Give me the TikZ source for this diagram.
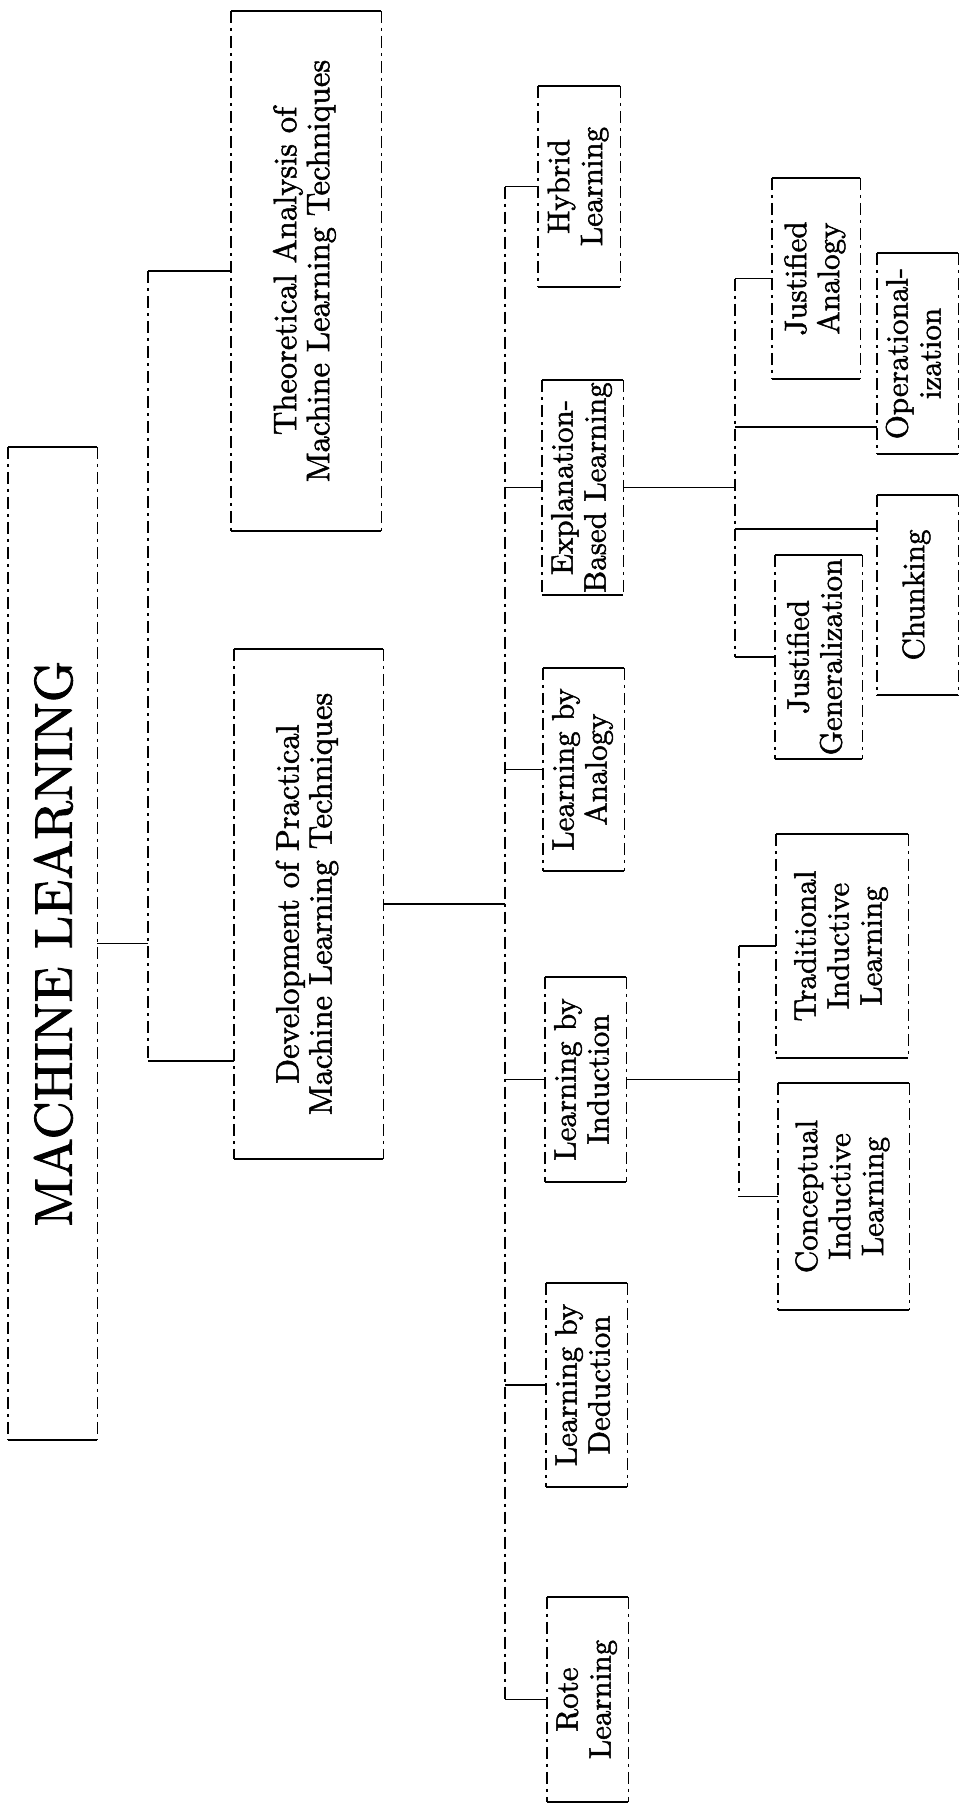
\documentclass[tikz,border=0pt]{standalone}
\usepackage{fontspec}
\usepackage{graphicx}
\setmainfont{lmroman10-regular.otf}[FakeBold=1.6]

\newcommand{\vtext}[1]{\rotatebox{90}{\begin{tabular}{@{}c@{}}#1\end{tabular}}}

\begin{document}
\begin{tikzpicture}[x=1pt,y=-1pt,
    box/.style={inner sep=0pt, font=\fontsize{31}{33}\selectfont},
    hedge/.style={line width=1.8pt},
    vedge/.style={line width=1.4pt, dash pattern=on 12pt off 5pt on 3pt off 5pt},
    link/.style={line width=1.8pt}]

        \useasboundingbox (0,0) rectangle (959,1805);

        % root and first level
        \node[box, minimum width=89pt, minimum height=993pt, font=\fontsize{53}{56}\selectfont] (root) at (52.5,943.5) {\vtext{\raisebox{-8pt}[\height][0pt]{MACHINE LEARNING}}};
        \node[box, minimum width=150pt, minimum height=520pt, font=\fontsize{32.5}{33}\selectfont] (theo) at (306,271) {\vtext{Theoretical Analysis of\\Machine Learning Techniques}};
        \node[box, minimum width=149pt, minimum height=510pt, font=\fontsize{32.5}{33}\selectfont] (dev) at (308.5,904) {\vtext{Development of Practical\\Machine Learning Techniques}};

        % second level
        \node[box, minimum width=82pt, minimum height=201pt] (hybrid) at (579,186.5) {\vtext{Hybrid\\Learning}};
        \node[box, minimum width=81pt, minimum height=215pt] (ebl) at (582.5,487.5) {\vtext{Explanation-\\Based Learning}};
        \node[box, minimum width=81pt, minimum height=203pt] (analogy) at (583.5,769.5) {\vtext{Learning by\\Analogy}};
        \node[box, minimum width=81pt, minimum height=205pt] (induction) at (585.5,1079.5) {\vtext{Learning by\\Induction}};
        \node[box, minimum width=81pt, minimum height=204pt] (deduction) at (586.5,1385) {\vtext{Learning by\\Deduction}};
        \node[box, minimum width=81pt, minimum height=205pt] (rote) at (587.5,1699.5) {\vtext{Rote\\Learning}};

        % third level
        \node[box, minimum width=88pt, minimum height=201pt] (ja) at (816,278.5) {\vtext{Justified\\Analogy}};
        \node[box, minimum width=81pt, minimum height=201pt] (oper) at (917.5,353.5) {\vtext{Operational-\\ization}};
        \node[box, minimum width=81pt, minimum height=200pt] (chunk) at (917.5,595) {\vtext{Chunking}};
        \node[box, minimum width=87pt, minimum height=204pt] (jg) at (818.5,657) {\vtext{Justified\\Generalization}};
        \node[box, minimum width=132pt, minimum height=224pt] (trad) at (842,946) {\vtext{Traditional\\Inductive\\Learning}};
        \node[box, minimum width=131pt, minimum height=227pt] (concept) at (843.5,1196.5) {\vtext{Conceptual\\Inductive\\Learning}};

        % frames: solid across, broken along
        \foreach \n in {root,theo,dev,hybrid,ebl,analogy,induction,deduction,rote,ja,oper,chunk,jg,trad,concept}{
            \draw[hedge] (\n.north west) -- (\n.north east) (\n.south west) -- (\n.south east);
            \draw[vedge] (\n.north west) -- (\n.south west) (\n.north east) -- (\n.south east);
        }

        % first bus
        \coordinate (busA) at (148,0);
        \coordinate (devin) at ([yshift=98pt]dev.south west);
        \draw[vedge] (busA |- theo.west) -- (busA |- devin);
        \draw[link] (root.east) -- (busA |- root.east);
        \draw[link] (busA |- theo.west) -- (theo.west);
        \draw[link] (busA |- devin) -- (devin);

        % second bus
        \coordinate (busB) at (505,0);
        \draw[vedge] (busB |- hybrid.west) -- (busB |- rote.west);
        \draw[link] (dev.east) -- (busB |- dev.east);
        \foreach \n in {hybrid,ebl,analogy,induction,deduction,rote}
            \draw[link] (busB |- \n.west) -- (\n.west);

        % explanation-based bus
        \coordinate (busC) at (735,0);
        \coordinate (operin) at ([yshift=27pt]oper.south west);
        \coordinate (chunkin) at ([yshift=-34pt]chunk.north west);
        \draw[vedge] (busC |- ja.west) -- (busC |- jg.west);
        \draw[link] (ebl.east) -- (busC |- ebl.east);
        \draw[link] (busC |- ja.west) -- (ja.west);
        \draw[link] (busC |- operin) -- (operin);
        \draw[link] (busC |- chunkin) -- (chunkin);
        \draw[link] (busC |- jg.west) -- (jg.west);

        % induction bus
        \coordinate (busD) at (739,0);
        \draw[vedge] (busD |- trad.west) -- (busD |- concept.west);
        \draw[link] (induction.east) -- (busD |- induction.east);
        \draw[link] (busD |- trad.west) -- (trad.west);
        \draw[link] (busD |- concept.west) -- (concept.west);

\end{tikzpicture}
\end{document}
